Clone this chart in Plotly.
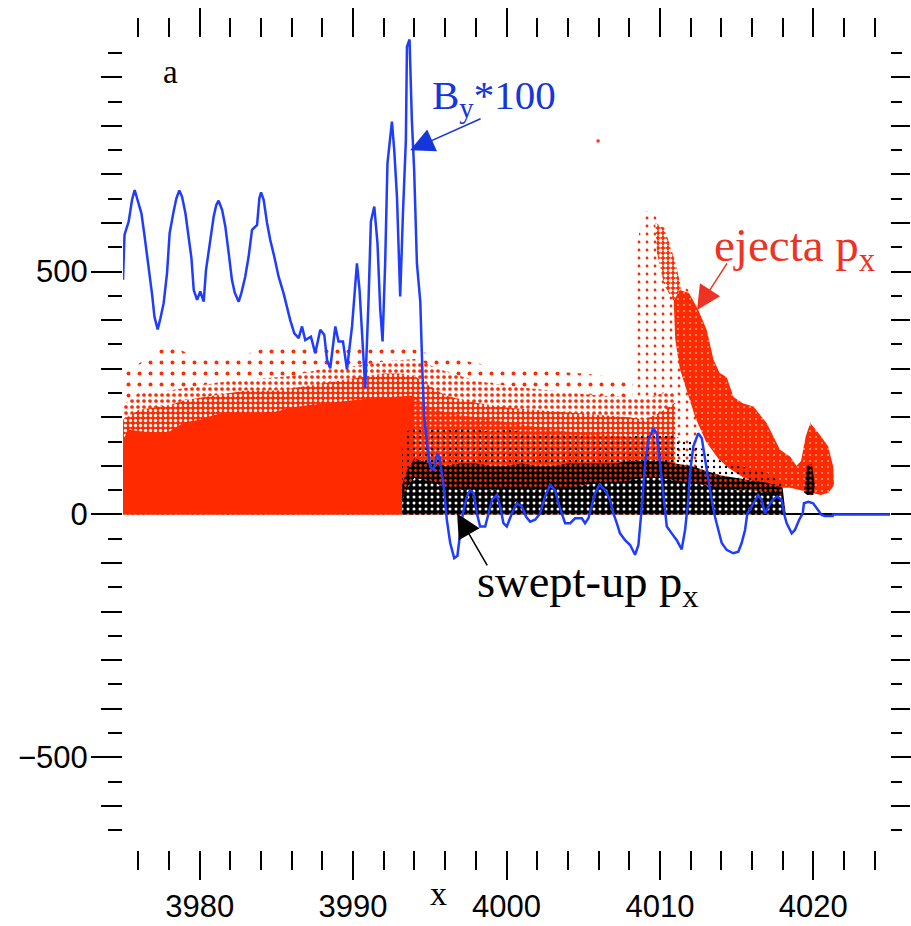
import plotly.graph_objects as go

# ---------------- data ----------------
# B_y * 100 (blue line)
by_x = [3975.0, 3975.1, 3975.37, 3975.59, 3975.76, 3975.92, 3976.2, 3976.41, 3976.64, 3976.79, 3976.9, 3977.05,
        3977.26, 3977.44, 3977.65, 3977.87, 3978.04, 3978.3, 3978.48, 3978.67, 3978.85, 3979.07, 3979.24, 3979.46,
        3979.61, 3979.83, 3980.04, 3980.26, 3980.41, 3980.63, 3980.91, 3981.08, 3981.23, 3981.46, 3981.67, 3981.89,
        3982.1, 3982.28, 3982.54, 3982.71, 3982.97, 3983.19, 3983.41, 3983.74, 3983.89, 3984.0, 3984.17, 3984.39,
        3984.6, 3984.86, 3985.14, 3985.47, 3985.69, 3985.9, 3986.17, 3986.45, 3986.67, 3986.88, 3987.25, 3987.53,
        3987.86, 3988.12, 3988.3, 3988.51, 3988.84, 3989.05, 3989.34, 3989.6, 3989.93, 3990.25, 3990.42, 3990.79,
        3991.0, 3991.16, 3991.38, 3991.59, 3991.77, 3991.92, 3992.09, 3992.24, 3992.53, 3992.68, 3992.86, 3993.07,
        3993.25, 3993.44, 3993.51, 3993.68, 3993.83, 3993.98, 3994.16, 3994.38, 3994.52, 3994.64, 3994.81, 3995.03,
        3995.24, 3995.46, 3995.63, 3995.79, 3995.94, 3996.11, 3996.33, 3996.59, 3996.8, 3996.98, 3997.16, 3997.42,
        3997.63, 3997.85, 3998.07, 3998.28, 3998.61, 3998.83, 3999.05, 3999.37, 3999.59, 3999.8, 4000.02, 4000.35,
        4000.67, 4001.0, 4001.28, 4001.54, 4001.87, 4002.19, 4002.52, 4002.84, 4003.17, 4003.38, 4003.6, 4003.82,
        4004.15, 4004.47, 4004.91, 4005.12, 4005.34, 4005.56, 4005.78, 4006.06, 4006.43, 4006.75, 4006.97, 4007.19,
        4007.4, 4007.73, 4008.06, 4008.38, 4008.6, 4008.88, 4009.03, 4009.25, 4009.57, 4009.8, 4010.01, 4010.23,
        4010.45, 4010.77, 4011.1, 4011.42, 4011.64, 4011.85, 4011.96, 4012.18, 4012.5, 4012.73, 4012.94, 4013.16,
        4013.38, 4013.59, 4013.81, 4014.03, 4014.35, 4014.78, 4015.11, 4015.33, 4015.55, 4015.7, 4015.98, 4016.2,
        4016.41, 4016.63, 4016.85, 4017.07, 4017.35, 4017.65, 4017.94, 4018.09, 4018.26, 4018.59, 4018.8, 4019.08,
        4019.31, 4019.39, 4019.67, 4019.99, 4020.22, 4020.54, 4020.76, 4021.26, 4021.3, 4025.0]
by_y = [483, 576, 603, 648, 668, 651, 620, 572, 517, 483, 452, 407,
        381, 404, 435, 497, 579, 624, 651, 667, 654, 620, 579, 528,
        462, 442, 459, 438, 503, 555, 613, 637, 646, 627, 593, 538,
        483, 457, 438, 455, 490, 531, 586, 596, 651, 663, 648, 600,
        565, 531, 490, 455, 425, 400, 373, 363, 387, 359, 366, 332,
        380, 370, 318, 301, 387, 356, 356, 298, 387, 517, 462, 260,
        435, 603, 634, 558, 421, 356, 517, 723, 809, 751, 654, 449,
        620, 771, 963, 978, 812, 709, 517, 438, 291, 201, 147, 98,
        92, 123, 119, 85, 50, -11, -59, -90, -85, -39, 2, 37,
        50, 44, 2, -25, -25, 2, 30, 40, 16, -18, -25, 2,
        23, 16, -5, -15, -11, 2, 37, 61, 50, 23, 2, -18,
        -18, -8, -8, -18, -8, 16, 44, 61, 50, 30, 2, -18,
        -39, -53, -63, -83, -63, 37, 105, 153, 177, 167, 105, 30,
        -25, -39, -53, -72, -32, 30, 85, 140, 167, 157, 119, 71,
        30, -5, -32, -59, -73, -80, -77, -59, -32, 2, 16, 30,
        40, 30, 2, 16, 30, 37, 30, 2, -18, -39, -32, -11,
        2, 23, 26, 23, 13, -1, -3, -3, 0, 0]

# ejecta p_x : dense core behind the shock
core_x = [3975.0, 3975.3, 3976.0, 3977.0, 3978.0, 3979.0, 3980.0, 3981.0, 3982.0, 3983.0, 3984.0, 3985.0,
          3986.0, 3987.0, 3988.0, 3989.0, 3990.0, 3991.0, 3992.0, 3993.0, 3993.9]
core_top = [150, 175, 172, 168, 170, 190, 195, 205, 210, 208, 208, 212,
            220, 225, 228, 232, 235, 238, 240, 242, 245]
# ejecta p_x : mixed region ahead of the shock
mix_x = [3993.9, 3995.0, 3996.0, 3997.0, 3998.0, 3999.0, 4000.0, 4001.0, 4002.0, 4003.0, 4004.0, 4005.0,
         4006.0, 4007.0, 4008.0, 4009.0, 4010.0, 4010.9]
mix_top = [245, 220, 210, 205, 200, 195, 190, 185, 180, 175, 170, 168,
           165, 162, 160, 155, 155, 165]
# ejecta p_x : inner (dense) speckled halo
halo_x = [3975.0, 3976.0, 3977.0, 3978.0, 3979.0, 3980.0, 3981.0, 3982.0, 3983.0, 3984.0, 3985.0, 3986.0,
          3987.0, 3988.0, 3989.0, 3990.0, 3991.0, 3992.0, 3993.0, 3994.0, 3995.0, 3996.0, 3998.0, 4000.0,
          4002.0, 4004.0, 4006.0, 4008.0, 4009.0, 4010.0, 4011.0]
halo_top = [195, 215, 220, 225, 235, 240, 245, 250, 255, 255, 255, 260,
            265, 270, 275, 280, 285, 290, 290, 285, 265, 245, 230, 220,
            215, 210, 205, 200, 195, 210, 230]
# ejecta p_x : outer speckled halo
outer_x = [3975.0, 3976.0, 3978.0, 3980.0, 3982.0, 3984.0, 3986.0, 3988.0, 3990.0, 3992.0, 3994.0, 3996.0,
           3998.0, 4000.0, 4003.0, 4006.0, 4009.0, 4011.0]
outer_top = [225, 250, 255, 265, 275, 280, 285, 300, 305, 315, 320, 295,
             275, 265, 255, 245, 240, 255]
# ejecta p_x : sparse outliers
sparse_x = [3975.0, 3978.0, 3980.0, 3983.0, 3985.0, 3988.0, 3990.0, 3993.0, 3995.0, 4000.0, 4005.0, 4008.0, 4010.0]
sparse_top = [290, 350, 320, 330, 350, 340, 350, 350, 330, 300, 290, 280, 280]
# ejecta p_x : beam (upper edge left->right, lower edge right->left)
band_up_x = [4010.9, 4011.3, 4011.9, 4012.5, 4013.05, 4013.5, 4013.9, 4014.35, 4014.8, 4015.4, 4016.1, 4016.96,
             4017.83, 4018.5, 4018.9, 4019.2, 4019.5, 4019.8, 4020.4, 4020.97, 4021.3, 4021.35]
band_up_y = [440, 462, 456, 421, 380, 318, 291, 283, 242, 229, 222, 188,
             133, 119, 100, 110, 160, 188, 165, 140, 98, 60]
band_lo_x = [4021.0, 4020.5, 4019.8, 4019.2, 4018.5, 4017.5, 4016.5, 4015.5, 4014.5, 4013.8, 4013.0, 4012.3,
             4011.8, 4011.3, 4011.0, 4010.9]
band_lo_y = [45, 40, 45, 50, 55, 55, 65, 75, 95, 115, 150, 200,
             250, 300, 360, 440]
# ejecta p_x : speckled tip of the beam
tip_x = [4009.7, 4010.3, 4011.0, 4011.4, 4010.9, 4010.3, 4009.8]
tip_y = [600, 590, 520, 465, 440, 470, 540]
# ejecta p_x : sparse points around the beam
beam_halo_x = [4008.2, 4008.5, 4009.0, 4009.5, 4010.0, 4010.5, 4011.0, 4011.5, 4012.0, 4012.6]
beam_halo_top = [240, 560, 625, 625, 600, 560, 490, 470, 460, 420]
# isolated ejecta particle
lone_x = [4005.97]
lone_y = [769]

# swept-up p_x
swept_x = [3993.2, 3993.5, 3994.0, 3995.0, 3996.0, 3997.0, 3998.0, 3999.0, 4000.0, 4001.0, 4002.0, 4003.0,
           4004.0, 4005.0, 4006.0, 4007.0, 4008.0, 4009.0, 4010.0, 4011.0, 4012.0, 4013.0, 4014.0, 4015.0,
           4016.0, 4017.0, 4018.0, 4018.2]
swept_sparse_top = [130, 170, 180, 175, 180, 180, 175, 170, 175, 170, 165, 165,
                    165, 160, 160, 160, 160, 165, 165, 160, 150, 130, 110, 100,
                    95, 85, 65, 0]
swept_mid_top = [60, 90, 115, 105, 100, 105, 105, 100, 100, 105, 100, 100,
                 105, 105, 105, 105, 110, 110, 110, 105, 100, 90, 80, 75,
                 70, 65, 55, 0]
swept_dense_top = [30, 55, 75, 70, 55, 50, 55, 50, 55, 55, 50, 55,
                   55, 60, 65, 65, 70, 75, 75, 70, 65, 60, 55, 50,
                   50, 45, 40, 0]
# swept-up clump inside the last ejecta spike
clump_x = [4019.4, 4019.6, 4019.9, 4020.1, 4020.0, 4019.6]
clump_y = [45, 100, 105, 60, 40, 40]

x_range = [3975, 4025]
y_range = [-691, 981]
y_label_vals = [-500, 0, 500]
y_label_text = ["\u2212500", "0", "500"]

RED = "#ff2a00"
BLUE = "#1f3cff"
TICKFONT = dict(family="Liberation Sans", size=31, color="black")
SERIF = "Liberation Serif"
CLEAR = "rgba(0,0,0,0)"

fig = go.Figure()


def area(x, y, pattern=None, color=None, fill="tozeroy"):
    kw = dict(x=x, y=y, mode="lines", fill=fill, line=dict(width=0, color=CLEAR),
              hoverinfo="skip", showlegend=False)
    if pattern is not None:
        kw["fillcolor"] = pattern.get("bgcolor", CLEAR)
        kw["fillpattern"] = dict(fgopacity=1, **pattern)
    else:
        kw["fillcolor"] = color
    fig.add_trace(go.Scatter(**kw))


# red sparse outliers / halos
area(sparse_x, sparse_top, pattern=dict(shape=".", fgcolor=RED, bgcolor="white", size=11, solidity=0.1))
area(beam_halo_x, beam_halo_top, pattern=dict(shape=".", fgcolor=RED, bgcolor="white", size=8, solidity=0.1))
area(outer_x, outer_top, pattern=dict(shape=".", fgcolor=RED, bgcolor="white", size=6, solidity=0.3))
area(halo_x, halo_top, pattern=dict(shape=".", fgcolor="white", bgcolor=RED, size=5, solidity=0.35))
# dense core
area(core_x, core_top, color=RED)
# mixed region
area(mix_x, mix_top, pattern=dict(shape=".", fgcolor="white", bgcolor=RED, size=5, solidity=0.15))
# beam tip & beam
area(tip_x, tip_y, pattern=dict(shape=".", fgcolor="white", bgcolor=RED, size=5, solidity=0.45), fill="toself")
area(band_up_x + band_lo_x, band_up_y + band_lo_y,
     pattern=dict(shape=".", fgcolor="white", bgcolor=RED, size=6, solidity=0.06), fill="toself")
fig.add_trace(go.Scatter(x=lone_x, y=lone_y, mode="markers", marker=dict(color=RED, size=3, symbol="square"),
                         hoverinfo="skip", showlegend=False))
# swept-up
area(swept_x, swept_sparse_top, pattern=dict(shape=".", fgcolor="black", bgcolor=CLEAR, size=6, solidity=0.12))
area(swept_x, swept_mid_top, pattern=dict(shape=".", fgcolor=RED, bgcolor="black", size=5, solidity=0.25))
area(swept_x, swept_dense_top, pattern=dict(shape=".", fgcolor="white", bgcolor="black", size=6, solidity=0.2))
area(clump_x, clump_y, pattern=dict(shape=".", fgcolor=RED, bgcolor="black", size=5, solidity=0.2), fill="toself")
# B_y * 100
fig.add_trace(go.Scatter(x=by_x, y=by_y, mode="lines", line=dict(color=BLUE, width=2.5),
                         hoverinfo="skip", showlegend=False))
# empty traces so that the mirrored tick axes are drawn
for xa, ya in [("x2", "y"), ("x", "y2"), ("x", "y3"), ("x", "y4")]:
    fig.add_trace(go.Scatter(x=[], y=[], xaxis=xa, yaxis=ya, mode="markers", hoverinfo="skip",
                             showlegend=False))

common_x = dict(range=x_range, showgrid=False, zeroline=False, showline=False, ticks="outside",
                tick0=3980, dtick=10, ticklen=29, tickwidth=2, tickcolor="black", automargin=False,
                minor=dict(dtick=2, ticks="outside", ticklen=19, tickwidth=2, tickcolor="black"))
common_y = dict(range=y_range, showgrid=False, showline=False, ticks="outside",
                tickwidth=2, tickcolor="black", automargin=False)
fig.update_layout(
    width=911, height=926,
    margin=dict(l=123, r=21, t=38, b=76),
    paper_bgcolor="white", plot_bgcolor="white",
    showlegend=False,
    xaxis=dict(**common_x, showticklabels=True, tickfont=TICKFONT),
    xaxis2=dict(**common_x, overlaying="x", side="top", anchor="y", showticklabels=False),
    yaxis=dict(**common_y, tickvals=y_label_vals, ticktext=y_label_text, ticklen=31, tickfont=TICKFONT,
               ticklabelstandoff=-3, zeroline=True, zerolinecolor="black", zerolinewidth=2,
               minor=dict(dtick=50, tick0=0, ticks="outside", ticklen=14, tickwidth=2, tickcolor="black")),
    yaxis2=dict(**common_y, overlaying="y", side="left", anchor="x", tick0=0, dtick=100, ticklen=21,
                showticklabels=False, zeroline=False),
    yaxis3=dict(**common_y, overlaying="y", side="right", anchor="x", tick0=0, dtick=100, ticklen=19,
                showticklabels=False, zeroline=False,
                minor=dict(dtick=50, tick0=0, ticks="outside", ticklen=11, tickwidth=2, tickcolor="black")),
    yaxis4=dict(**common_y, overlaying="y", side="right", anchor="x", tickvals=y_label_vals, ticklen=22,
                showticklabels=False, zeroline=False),
)

# text labels
fig.add_annotation(x=3978.09, y=911, text="a", showarrow=False, xanchor="center", yanchor="middle",
                   font=dict(family=SERIF, size=33, color="black"))
fig.add_annotation(x=3995.55, y=-0.053, yref="paper", text="x", showarrow=False, xanchor="center",
                   yanchor="middle", font=dict(family=SERIF, size=34, color="black"))
fig.add_annotation(x=3995.03, y=858, text="B<sub>y</sub>*100", showarrow=False, xanchor="left",
                   yanchor="middle", font=dict(family=SERIF, size=41, color="#1535dd"))
fig.add_annotation(x=4013.4, y=547, text="ejecta p<sub>x</sub>", showarrow=False, xanchor="left",
                   yanchor="middle", font=dict(family=SERIF, size=47, color="#ee3325"))
fig.add_annotation(x=3997.95, y=-145, text="swept-up p<sub>x</sub>", showarrow=False, xanchor="left",
                   yanchor="middle", font=dict(family=SERIF, size=46.5, color="black"))
# arrows
for tip, tail, col in [((3993.72, 750), (3998.41, 816), "#1535dd"),
                       ((4012.42, 421), (4014.44, 520), "#ee3325"),
                       ((3996.78, 2), (3998.8, -108), "black")]:
    fig.add_annotation(x=tip[0], y=tip[1], ax=tail[0], ay=tail[1], axref="x", ayref="y", text="",
                       showarrow=True, arrowhead=2, arrowsize=3.2, arrowwidth=1.5, arrowcolor=col)

fig.write_html("out.html", config={"displayModeBar": False},
               post_script="document.body.style.margin='0';document.body.style.padding='0';")
